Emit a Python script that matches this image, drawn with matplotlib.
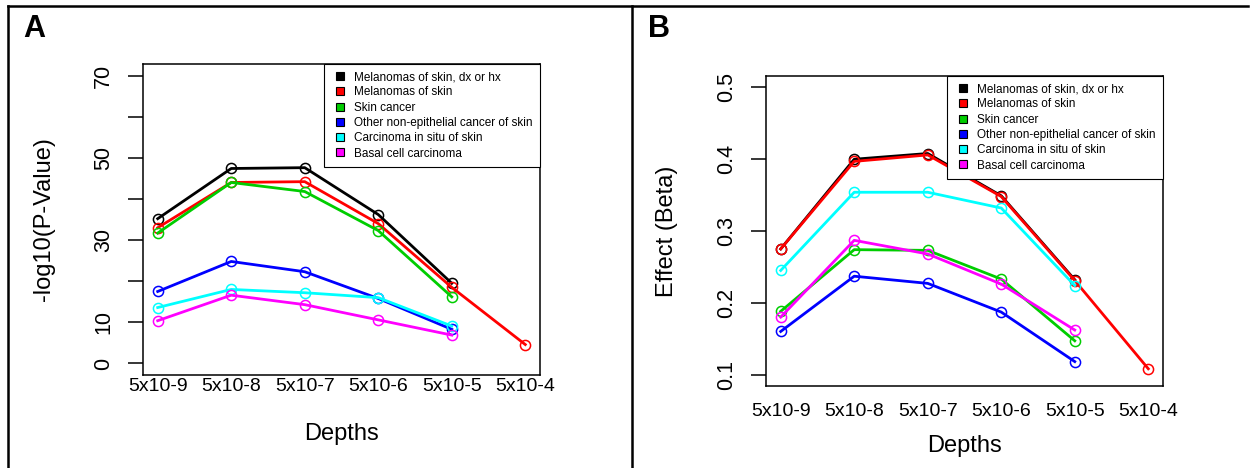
import numpy as np
import matplotlib
matplotlib.use("Agg")
import matplotlib.pyplot as plt
from matplotlib.lines import Line2D

plt.rcParams["font.family"] = ["Liberation Sans", "DejaVu Sans"]

depths = ["5x10-9", "5x10-8", "5x10-7", "5x10-6", "5x10-5", "5x10-4"]
traits = [
    "Melanomas of skin, dx or hx",
    "Melanomas of skin",
    "Skin cancer",
    "Other non-epithelial cancer of skin",
    "Carcinoma in situ of skin",
    "Basal cell carcinoma",
]
colors = ["#000000", "#FF0000", "#00CD00", "#0000FF", "#00FFFF", "#FF00FF"]

nan = np.nan
# -log10(P-value) per trait, one value per depth
pval_melanoma_dx = [35.2, 47.4, 47.6, 36.2, 19.5, nan]
pval_melanoma = [33.0, 44.0, 44.2, 34.0, 18.5, 4.6]
pval_skin_cancer = [31.7, 44.0, 41.8, 32.3, 16.2, nan]
pval_non_epith = [17.5, 24.8, 22.3, 15.8, 8.3, nan]
pval_in_situ = [13.6, 18.0, 17.2, 16.0, 9.1, nan]
pval_basal = [10.4, 16.6, 14.3, 10.6, 6.9, nan]

# effect sizes (beta) per trait
beta_melanoma_dx = [0.275, 0.400, 0.408, 0.349, 0.232, nan]
beta_melanoma = [0.275, 0.397, 0.406, 0.348, 0.231, 0.108]
beta_skin_cancer = [0.188, 0.274, 0.273, 0.233, 0.147, nan]
beta_non_epith = [0.160, 0.237, 0.227, 0.187, 0.118, nan]
beta_in_situ = [0.245, 0.354, 0.354, 0.332, 0.224, nan]
beta_basal = [0.180, 0.287, 0.268, 0.226, 0.162, nan]

pval_series = [pval_melanoma_dx, pval_melanoma, pval_skin_cancer,
               pval_non_epith, pval_in_situ, pval_basal]
beta_series = [beta_melanoma_dx, beta_melanoma, beta_skin_cancer,
               beta_non_epith, beta_in_situ, beta_basal]

W, H = 1253, 468


def draw_panel(ax, series, ylim, yticks, yticklabels, ylabel, xpad, xlabel_y):
    x = np.arange(1, len(depths) + 1)
    for vals, col in zip(series, colors):
        ax.plot(x, vals, color=col, lw=2.0, marker="o", ms=7.3,
                mfc="none", mec=col, mew=1.1)
    ax.set_xlim(0.8, 6.2)
    ax.set_ylim(*ylim)
    ax.set_xticks(x)
    ax.set_xticklabels(depths)
    ax.set_yticks(yticks)
    ax.set_yticklabels(yticklabels)
    ax.tick_params(axis="x", length=0, pad=xpad, labelsize=14)
    ax.tick_params(axis="y", length=10.8, width=1.1, pad=10, labelsize=15.5,
                   labelrotation=90)
    for lab in ax.get_yticklabels():
        lab.set_va("center")
    for sp in ax.spines.values():
        sp.set_linewidth(1.1)
    ax.set_xlabel("Depths", fontsize=17, va="top")
    ax.xaxis.set_label_coords(0.5, xlabel_y)
    ax.set_ylabel(ylabel, fontsize=17, va="center")
    ax.yaxis.set_label_coords(-0.249, 0.5)

    handles = [Line2D([], [], ls="none", marker="s", ms=6, mfc=c, mec="black",
                      mew=0.8) for c in colors]
    leg = ax.legend(handles, traits, loc="upper right", fontsize=8.5,
                    borderaxespad=0, borderpad=0.6, labelspacing=0.28,
                    handlelength=1.5, handletextpad=0.45, fancybox=False,
                    framealpha=1, edgecolor="black")
    leg.get_frame().set_linewidth(0.8)


fig = plt.figure(figsize=(W / 100, H / 100), dpi=100)
axA = fig.add_axes([143 / W, 1 - 375 / H, 397 / W, 311 / H])
axB = fig.add_axes([766 / W, 1 - 386 / H, 397 / W, 310 / H])

draw_panel(axA, pval_series, (-2.8, 72.8), np.arange(0, 71, 10),
           ["0", "10", "", "30", "", "50", "", "70"],
           "-log10(P-Value)", 2, -0.154)
draw_panel(axB, beta_series, (0.084, 0.516), [0.1, 0.2, 0.3, 0.4, 0.5],
           ["0.1", "0.2", "0.3", "0.4", "0.5"],
           "Effect (Beta)", 12, -0.158)

# panel letters and outer frame
fig.text(23 / W, 1 - 14 / H, "A", fontsize=22, fontweight="bold", va="top")
fig.text(648 / W, 1 - 14 / H, "B", fontsize=22, fontweight="bold", va="top")
frame = dict(color="black", lw=1.8, transform=fig.transFigure)
fig.add_artist(Line2D([7.5 / W, 1248 / W], [1 - 5.5 / H, 1 - 5.5 / H], **frame))
fig.add_artist(Line2D([7.5 / W, 7.5 / W], [0, 1 - 5.5 / H], **frame))
fig.add_artist(Line2D([632 / W, 632 / W], [0, 1 - 5.5 / H], **frame))

fig.savefig("out.png", dpi=100)
